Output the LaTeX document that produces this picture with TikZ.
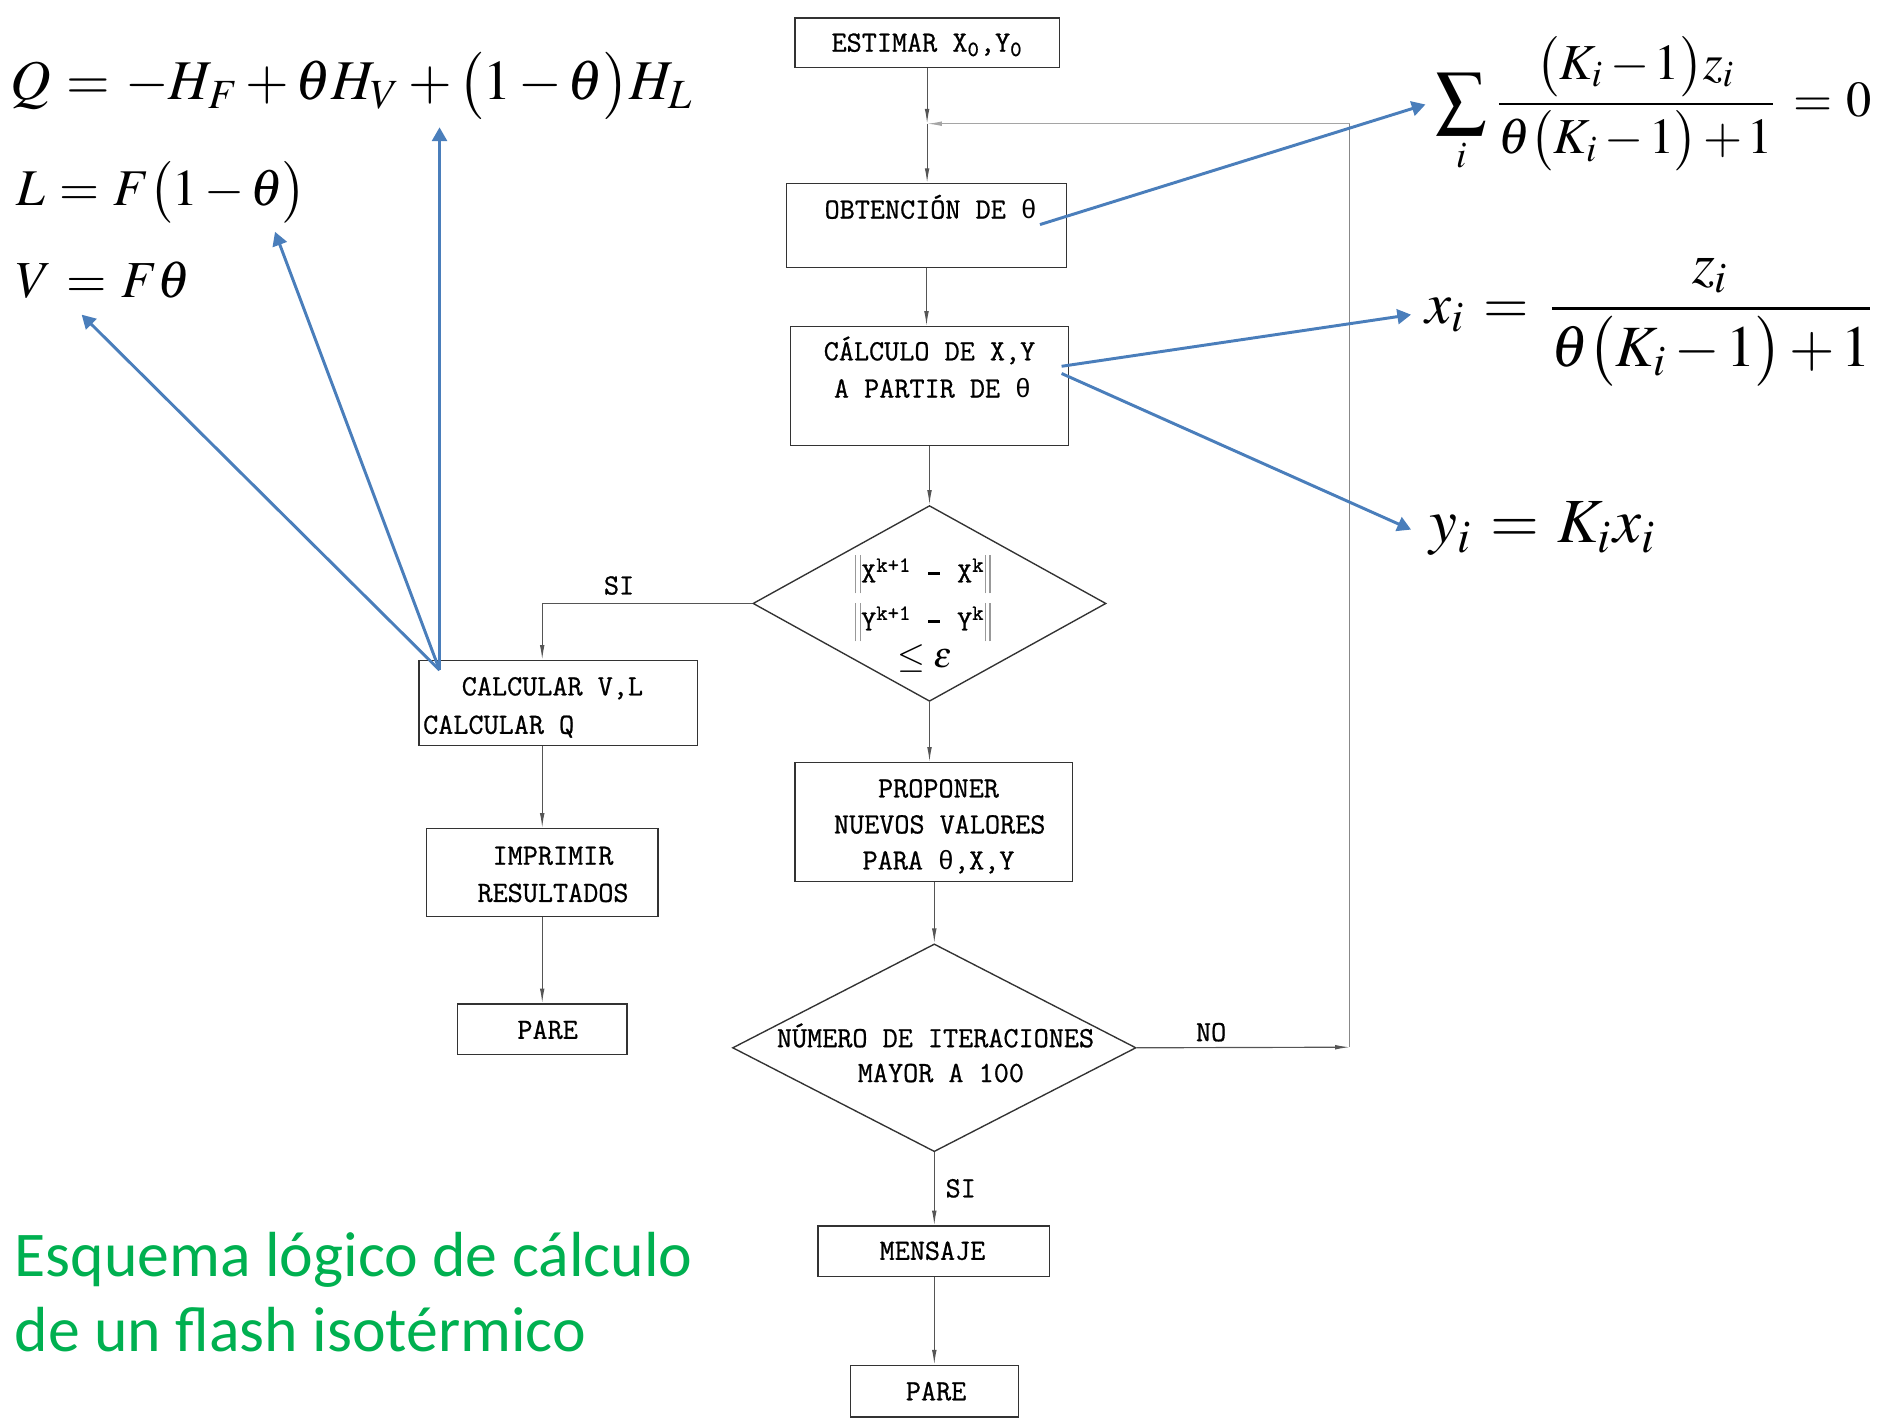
\documentclass[tikz,border=0pt]{standalone}
\usepackage{mathptmx}
\usepackage[no-math]{fontspec}
\newfontfamily\titlefont{Carlito}
\newfontfamily\flowmono[FakeBold=0.8]{Latin Modern Mono}
\newfontfamily\greekmono[Scale=0.9]{Liberation Mono}
\usetikzlibrary{arrows.meta,shapes.geometric,fit}

\definecolor{flowline}{RGB}{85,85,85}
\definecolor{loopline}{RGB}{165,165,165}
\definecolor{eqblue}{RGB}{74,126,187}
\definecolor{titlegreen}{RGB}{0,176,80}

% monospaced theta, double norm bars and the bold minus of the convergence test
\newcommand{\mtheta}{{\greekmono θ}}
\newcommand{\nbar}{\textcolor{black!40}{\rule[-0.37em]{0.5pt}{1.3em}\hspace{1.8pt}\rule[-0.37em]{0.5pt}{1.3em}}}
\newcommand{\tminus}{\makebox[0.525em]{\rule[0.24em]{0.42em}{0.11em}}}
\newcommand{\flowfont}{\flowmono\fontsize{13.9}{17.4}\selectfont}
% tighter binary-operator spacing for the equations, then fit to a given width
\newcommand{\eqfit}[2]{\resizebox{#1}{!}{\thickmuskip=5mu\medmuskip=2mu$#2$}}

\begin{document}
\begin{tikzpicture}[x=0.02cm,y=-0.02cm,
  box/.style={draw=black!80,line width=0.65pt,inner sep=0pt},
  decision/.style={diamond,draw=black!80,line width=0.65pt,inner sep=0pt},
  ftext/.style={font=\flowfont,inner sep=0pt,anchor=base},
  flow/.style={draw=flowline,line width=0.55pt,-{Latex[length=7pt,width=2.2pt]}},
  note/.style={draw=eqblue,line width=1.4pt,-{Triangle[length=6.5pt,width=7pt]}},
  eq/.style={inner sep=0pt,anchor=base west},
  title/.style={inner sep=0pt,anchor=base west,text=titlegreen,
    font=\titlefont\fontsize{30.2}{36}\selectfont},
]
\useasboundingbox (0,0) rectangle (1568,1181);

% ---------- process boxes ----------
\node[box,fit={(662,15)(882,56)}] (est) {};
\node[box,fit={(655,153)(888,223)}] (obt) {};
\node[box,fit={(658,272)(890,371)}] (calc) {};
\node[box,fit={(349,550)(581,621)}] (calcbox) {};
\node[box,fit={(355,690)(548,763)}] (impr) {};
\node[box,fit={(381,836)(522,878)}] (pareL) {};
\node[box,fit={(662,635)(893,734)}] (prop) {};
\node[box,fit={(681,1021)(874,1063)}] (msg) {};
\node[box,fit={(708,1137)(848,1180)}] (pareR) {};

% ---------- decisions ----------
\node[decision,minimum width=294*0.02cm,minimum height=163*0.02cm] (d1) at (774,502.5) {};
\node[decision,minimum width=336*0.02cm,minimum height=173*0.02cm] (d2) at (778,872.5) {};

% ---------- texts ----------
\node[ftext] (estT) at (772,43) {ESTIMAR X\textsubscript{0},Y\textsubscript{0}};
\node[ftext] (obtT) at (775,182) {OBTENCIÓN DE \mtheta};
\node[ftext] (calcT1) at (774,300) {CÁLCULO DE X,Y};
\node[ftext] (calcT2) at (776.5,331) {A PARTIR DE \mtheta};
\node[ftext] (d1T1) at (768.5,485) {\nbar X\textsuperscript{k+1} \tminus{} X\textsuperscript{k}\nbar};
\node[ftext] (d1T2) at (768.5,525) {\nbar Y\textsuperscript{k+1} \tminus{} Y\textsuperscript{k}\nbar};
\node[inner sep=0pt,anchor=base,font=\fontsize{17}{20}\selectfont] (d1T3) at (770,556) {$\leq\varepsilon$};
\node[ftext] (siA) at (515.5,495) {SI};
\node[ftext] (cvT1) at (460,579) {CALCULAR V,L};
\node[ftext,anchor=base west] (cvT2) at (352,611) {CALCULAR Q};
\node[ftext] (imT1) at (460.5,720) {IMPRIMIR};
\node[ftext] (imT2) at (460.5,751) {RESULTADOS};
\node[ftext] (pLT) at (456,865) {PARE};
\node[ftext] (prT1) at (781.5,664) {PROPONER};
\node[ftext] (prT2) at (782.5,694) {NUEVOS VALORES};
\node[ftext] (prT3) at (781.5,724) {PARA \mtheta,X,Y};
\node[ftext] (d2T1) at (779,872) {NÚMERO DE ITERACIONES};
\node[ftext] (d2T2) at (783.5,901) {MAYOR A 100};
\node[ftext] (noT) at (1008.5,867) {NO};
\node[ftext] (siB) at (800,997) {SI};
\node[ftext] (msgT) at (776.5,1049) {MENSAJE};
\node[ftext] (pRT) at (779.5,1166) {PARE};

% ---------- flow connectors ----------
\coordinate (jn) at (772,103);
\coordinate (nc) at (1124,872);
\coordinate (nt) at (1124,103);
\draw[flow] (est.south) -- (jn);
\draw[flow] (jn) -- (jn |- obt.north);
\draw[flow] (obt.south) -- (obt.south |- calc.north);
\draw[flow] (calc.south) -- (d1.north);
\draw[flow] (d1.west) -| (impr.north |- calcbox.north);
\draw[flow] (impr.north |- calcbox.south) -- (impr.north);
\draw[flow] (impr.south) -- (impr.south |- pareL.north);
\draw[flow] (d1.south) -- (d1.south |- prop.north);
\draw[flow] (d2.north |- prop.south) -- (d2.north);
\draw[flow] (d2.east) -- (nc);
\draw[draw=flowline!70,line width=0.55pt] (nc) -- (nt);
\draw[flow,draw=loopline] (nt) -- (jn);
\draw[flow] (d2.south) -- (d2.south |- msg.north);
\draw[flow] (d2.south |- msg.south) -- (d2.south |- pareR.north);

% ---------- equations ----------
\node[eq] (eqQ) at (8,83)
  {\eqfit{11.4cm}{Q=-H_{F}+\theta H_{V}+\bigl(1-\theta\bigr)H_{L}}};
\node[eq] (eqL) at (13,171)
  {\eqfit{4.84cm}{L=F\bigl(1-\theta\bigr)}};
\node[eq] (eqV) at (13,248)
  {\eqfit{2.9cm}{V=F\theta}};
\node[eq] (eqS) at (1195,97)
  {\eqfit{7.26cm}{\displaystyle\sum_{i}\frac{\bigl(K_{i}-1\bigr)z_{i}}{\theta\bigl(K_{i}-1\bigr)+1}=0}};
\node[eq] (eqX) at (1187,269)
  {\eqfit{7.52cm}{\displaystyle x_{i}=\frac{z_{i}}{\theta\bigl(K_{i}-1\bigr)+1}}};
\node[eq] (eqY) at (1190,452)
  {\eqfit{3.8cm}{y_{i}=K_{i}x_{i}}};

% ---------- links from the boxes to their equations ----------
\coordinate (sObt) at (866,187);
\coordinate (tSum) at (1187,87);
\coordinate (sCx) at (884,305);
\coordinate (sCy) at (884,311);
\coordinate (tX) at (1175,262);
\coordinate (tY) at (1175,441);
\coordinate (sVL) at (366,558);
\coordinate (tQ) at (366,106);
\coordinate (tL) at (229,193);
\coordinate (tV) at (68,262);
\draw[note] (sObt) -- (tSum);
\draw[note] (sCx) -- (tX);
\draw[note] (sCy) -- (tY);
\draw[note] (sVL) -- (tQ);
\draw[note] (sVL) -- (tL);
\draw[note] (sVL) -- (tV);

% ---------- caption ----------
\node[title] (cap1) at (12,1063) {Esquema lógico de cálculo};
\node[title] (cap2) at (12,1125) {de un flash isotérmico};
\end{tikzpicture}
\end{document}
